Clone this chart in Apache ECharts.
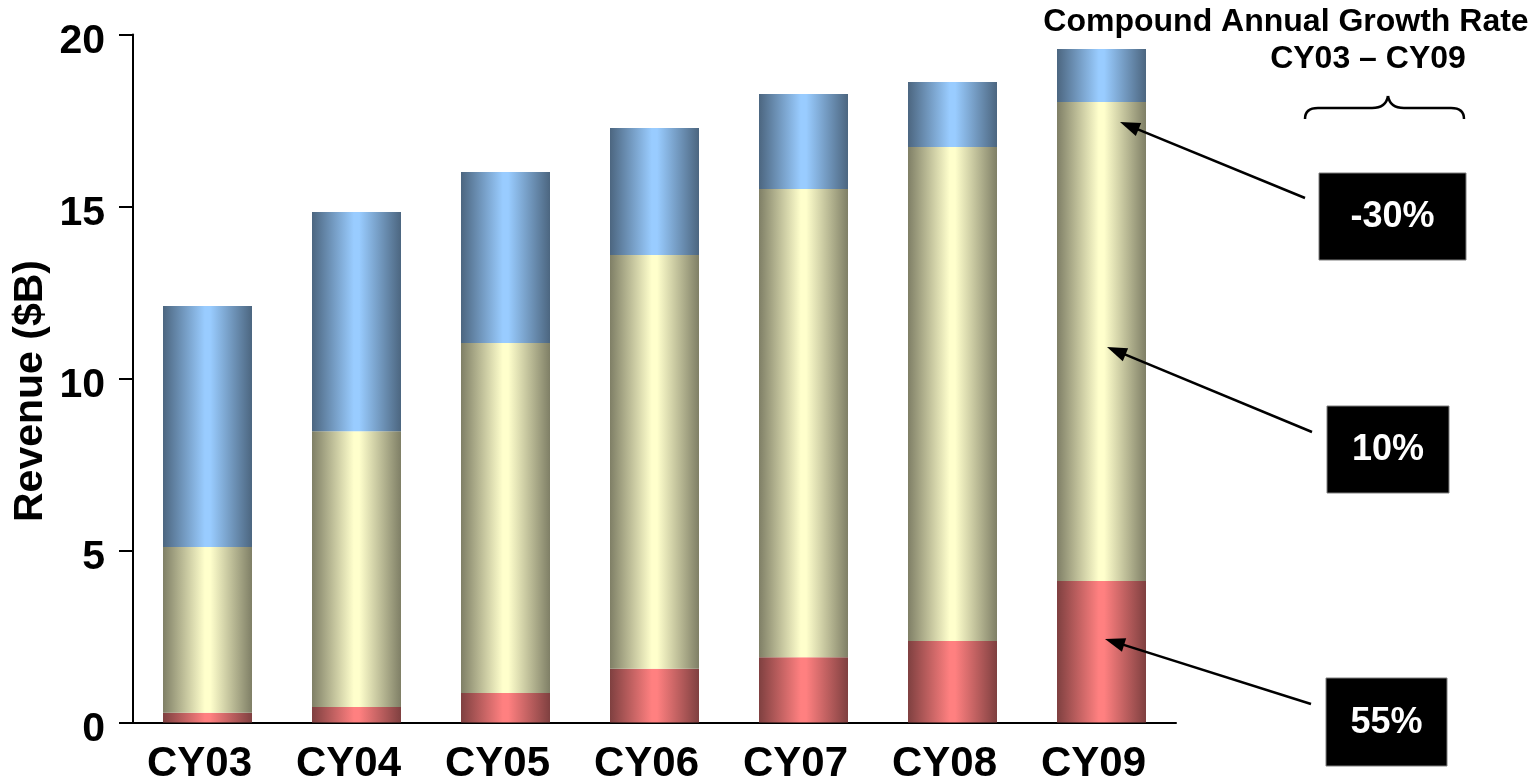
<!DOCTYPE html>
<html>
<head>
<meta charset="utf-8">
<script src="https://cdn.jsdelivr.net/npm/echarts@6/dist/echarts.min.js"></script>
<style>
  html, body { margin: 0; padding: 0; background: #fff; }
  #chart { width: 1540px; height: 777px; }
</style>
</head>
<body>
<div id="chart"></div>
<script>
// Revenue by calendar year, split into three stacked segments ($B)
const years = ['CY03', 'CY04', 'CY05', 'CY06', 'CY07', 'CY08', 'CY09'];
const redSegment    = [0.28, 0.45, 0.86, 1.56, 1.90, 2.37, 4.11];
const yellowSegment = [4.82, 8.02, 10.17, 12.03, 13.61, 14.36, 13.93];
const blueSegment   = [7.01, 6.37, 4.97, 3.69, 2.76, 1.89, 1.54];
const yTicks = [0, 5, 10, 15, 20];

// Growth-rate callouts, top to bottom
const cagrLabels = ['-30%', '10%', '55%'];

const FONT = "'Liberation Sans', Arial, Helvetica, sans-serif";

// Horizontal "cylinder" shading: dark edges, light centre
function shade(edge, centre) {
  return {
    type: 'linear', x: 0, y: 0, x2: 1, y2: 0,
    colorStops: [
      { offset: 0, color: edge },
      { offset: 0.47, color: centre },
      { offset: 0.53, color: centre },
      { offset: 1, color: edge }
    ]
  };
}

function arrow(sx, sy, tx, ty) {
  const dx = tx - sx, dy = ty - sy;
  const len = Math.sqrt(dx * dx + dy * dy);
  const ux = dx / len, uy = dy / len;
  const head = 20, half = 7;
  const bx = tx - ux * head, by = ty - uy * head;
  return [
    { type: 'line', shape: { x1: sx, y1: sy, x2: bx + ux * 2, y2: by + uy * 2 },
      style: { stroke: '#000', lineWidth: 2.5 }, z: 20 },
    { type: 'polygon',
      shape: { points: [[tx, ty], [bx - uy * half, by + ux * half], [bx + uy * half, by - ux * half]] },
      style: { fill: '#000' }, z: 20 }
  ];
}

function box(x, y, w, h, label) {
  return [
    { type: 'rect', shape: { x: x, y: y, width: w, height: h },
      style: { fill: '#000', stroke: '#7f7f7f', lineWidth: 1 }, z: 20 },
    { type: 'text', x: x + w / 2, y: y + h / 2 + 1,
      style: { text: label, fill: '#fff', font: 'bold 36px ' + FONT,
               align: 'center', verticalAlign: 'middle' }, z: 21 }
  ];
}

// Curly brace over the growth-rate column
function brace() {
  const s = { stroke: '#000', lineWidth: 2.5, fill: null };
  return [
    { type: 'bezierCurve', shape: { x1: 1305, y1: 119, cpx1: 1305, cpy1: 108, x2: 1318, y2: 108 }, style: s },
    { type: 'line', shape: { x1: 1318, y1: 108, x2: 1372, y2: 108 }, style: s },
    { type: 'bezierCurve', shape: { x1: 1372, y1: 108, cpx1: 1386, cpy1: 108, x2: 1388, y2: 96 }, style: s },
    { type: 'bezierCurve', shape: { x1: 1388, y1: 96, cpx1: 1390, cpy1: 108, x2: 1404, y2: 108 }, style: s },
    { type: 'line', shape: { x1: 1404, y1: 108, x2: 1451, y2: 108 }, style: s },
    { type: 'bezierCurve', shape: { x1: 1451, y1: 108, cpx1: 1464, cpy1: 108, x2: 1464, y2: 119 }, style: s }
  ];
}

const chart = echarts.init(document.getElementById('chart'), null, { renderer: 'canvas' });

const graphics = [].concat(
  [{
    type: 'text', x: 31, y: 391, rotation: Math.PI / 2,
    style: { text: 'Revenue ($B)', font: 'bold 41px ' + FONT, fill: '#000',
             align: 'center', verticalAlign: 'middle' }
  },
  {
    type: 'text', x: 1286, y: 22,
    style: { text: 'Compound Annual Growth Rate', font: 'bold 32px ' + FONT, fill: '#000',
             align: 'center', verticalAlign: 'middle' }
  },
  {
    type: 'text', x: 1368, y: 59,
    style: { text: 'CY03 \u2013 CY09', font: 'bold 32px ' + FONT, fill: '#000',
             align: 'center', verticalAlign: 'middle' }
  }],
  brace(),
  box(1319, 173, 147, 87, cagrLabels[0]),
  box(1327, 406, 122, 87, cagrLabels[1]),
  box(1326, 678, 121, 88, cagrLabels[2]),
  arrow(1305, 198, 1120, 122),
  arrow(1312, 432, 1107, 347),
  arrow(1311, 704, 1105, 639)
);

const option = {
  animation: false,
  backgroundColor: '#fff',
  grid: { left: 133, top: 34.5, width: 1043, height: 688,
          containLabel: false, outerBoundsMode: 'none' },
  xAxis: {
    type: 'category',
    data: years,
    axisLine: { lineStyle: { color: '#000', width: 2 } },
    axisTick: { show: false },
    axisLabel: { color: '#000', fontFamily: FONT, fontWeight: 'bold', fontSize: 42, margin: 21,
                 padding: [0, 16, 0, 0] }
  },
  yAxis: {
    type: 'value',
    min: 0, max: 20, interval: 5,
    splitLine: { show: false },
    axisLine: { show: true, lineStyle: { color: '#000', width: 2 } },
    axisTick: { show: true, inside: false, length: 14, lineStyle: { color: '#000', width: 2 } },
    axisLabel: {
      color: '#000', fontFamily: FONT, fontWeight: 'bold', fontSize: 41, margin: 28,
      verticalAlign: 'top', lineHeight: 14,
      formatter: function (v) { return yTicks.indexOf(v) >= 0 ? String(v) : ''; }
    }
  },
  series: [
    { name: 'Red', type: 'bar', stack: 'rev', barWidth: 89, data: redSegment,
      itemStyle: { color: shade('#7f4040', '#ff8080') } },
    { name: 'Yellow', type: 'bar', stack: 'rev', barWidth: 89, data: yellowSegment,
      itemStyle: { color: shade('#7f7f66', '#ffffcc') } },
    { name: 'Blue', type: 'bar', stack: 'rev', barWidth: 89, data: blueSegment,
      itemStyle: { color: shade('#4c6680', '#99ccff') } }
  ],
  graphic: graphics
};

chart.setOption(option);
</script>
</body>
</html>
